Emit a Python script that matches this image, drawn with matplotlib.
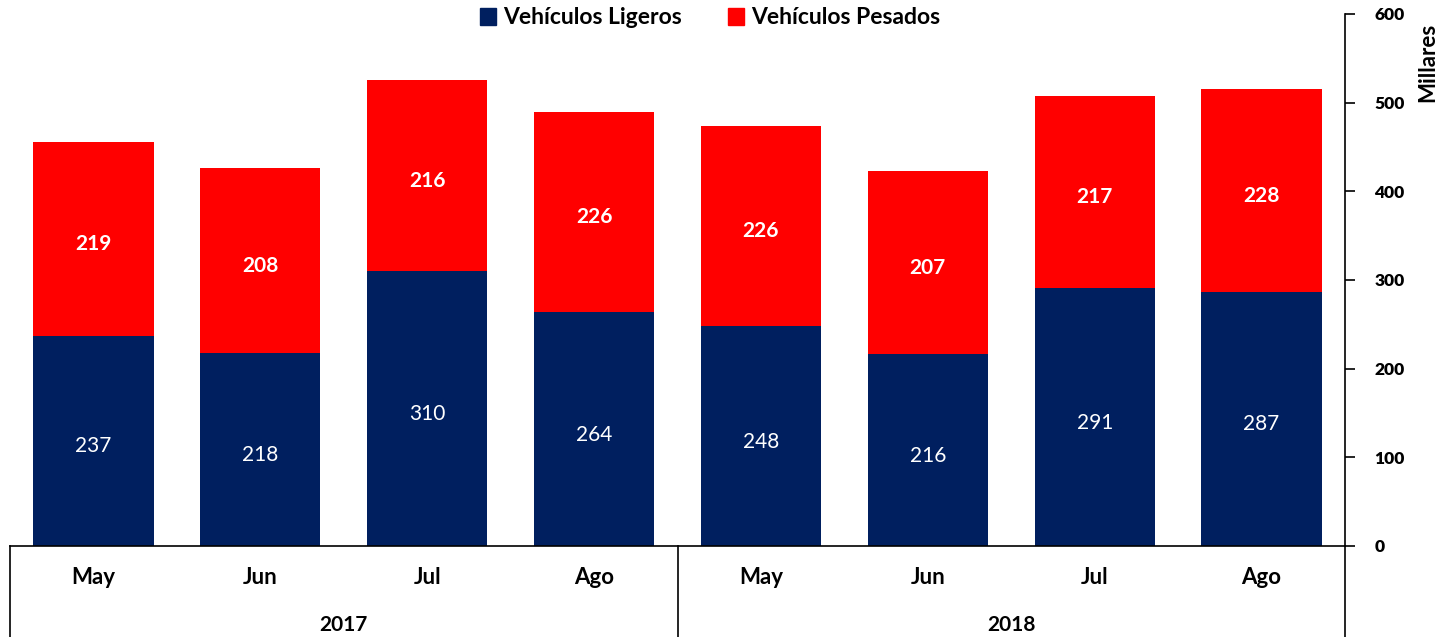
import matplotlib.pyplot as plt
from matplotlib.patches import Patch

months = ['May', 'Jun', 'Jul', 'Ago', 'May', 'Jun', 'Jul', 'Ago']
years = ['2017', '2018']
ligeros = [237, 218, 310, 264, 248, 216, 291, 287]
pesados = [219, 208, 216, 226, 226, 207, 217, 228]
yticks = [0, 100, 200, 300, 400, 500, 600]

navy = '#001F5F'
red = '#FF0000'
font = 'Lato'

fig = plt.figure(figsize=(14.39, 6.37), dpi=100)
W, H = 1439, 637
ax = fig.add_axes([10 / W, (H - 546) / H, 1335 / W, 532 / H])

x = list(range(len(months)))
ax.bar(x, ligeros, width=0.72, color=navy)
ax.bar(x, pesados, width=0.72, bottom=ligeros, color=red)

for i in x:
    ax.annotate(str(ligeros[i]), (i, ligeros[i] / 2), xytext=(0, -4),
                textcoords='offset points', ha='center', va='center',
                color='white', fontsize=15, family=font)
    ax.annotate(str(pesados[i]), (i, ligeros[i] + pesados[i] / 2), xytext=(0, -4),
                textcoords='offset points', ha='center', va='center',
                color='white', fontsize=15, fontweight='bold', family=font)

ax.set_xlim(-0.5, 7.5)
ax.set_ylim(0, 600)
ax.set_yticks(yticks)
ax.set_yticklabels([str(v) for v in yticks], fontweight='heavy', family=font,
                   fontsize=12.5)
ax.yaxis.tick_right()
ax.tick_params(axis='y', direction='out', length=7, width=1.2, pad=14)
ax.set_xticks([])
for s in ['top', 'left']:
    ax.spines[s].set_visible(False)
ax.spines['right'].set_linewidth(1.2)
ax.spines['bottom'].set_linewidth(1.2)

# category box below the axis
tr = ax.get_xaxis_transform()
depth = -91 / 532
for xv in [-0.5, 3.5, 7.5]:
    ax.plot([xv, xv], [0, depth], transform=tr, color='black', lw=1.2,
            clip_on=False)
for i, m in enumerate(months):
    ax.text(i, -31 / 532, m, transform=tr, ha='center', va='center',
            fontsize=16, fontweight='bold', family=font)
for j, yr in enumerate(years):
    ax.text(1.5 + 4 * j, -79 / 532, yr, transform=tr, ha='center',
            va='center', fontsize=15, fontweight='bold', family=font)

fig.text(1428 / W, (H - 62) / H, 'Millares', rotation=90, ha='center',
         va='center', fontsize=16, fontweight='bold', family=font)

handles = [Patch(color=navy, label='Vehículos Ligeros'),
           Patch(color=red, label='Vehículos Pesados')]
fig.legend(handles=handles, loc='center', bbox_to_anchor=(710 / W, (H - 18) / H),
           ncol=2, frameon=False, handlelength=0.7, handleheight=0.7,
           handletextpad=0.3, columnspacing=2.0,
           prop={'family': font, 'weight': 'bold', 'size': 16.5})

fig.savefig('out.png', dpi=100)
